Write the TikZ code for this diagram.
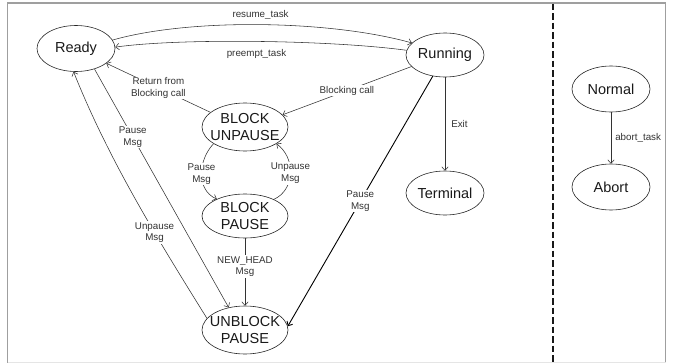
\documentclass[tikz,border=0pt]{standalone}
\usepackage{fontspec}
\setmainfont{Liberation Sans}
\usetikzlibrary{shapes.geometric,arrows.meta}
\begin{document}
\begin{tikzpicture}[x=1pt,y=1pt,
  state/.style={ellipse, draw=black!85, line width=0.6pt, inner xsep=-10pt, inner ysep=0pt,
    font=\fontsize{14.5}{17}\selectfont, align=center, text=black!90},
  edge/.style={draw=black!80, line width=0.55pt, -{Straight Barb[length=3.5pt,width=6.5pt]}},
  lbl/.style={font=\fontsize{9.8}{11.5}\selectfont, align=center, text=black!80, inner sep=1pt},
  lblw/.style={lbl, fill=white}]
\useasboundingbox (0,0) rectangle (673,-364);
% frame
\draw[gray!75, line width=1.1pt] (7.5,-362.5) -- (7.5,-3) -- (665.5,-3) -- (665.5,-362.5);
\draw[gray!20, line width=0.8pt] (7.5,-362.5) -- (665.5,-362.5);
% separator
\coordinate (septop) at (553,-3.5);
\coordinate (sepbot) at (553,-362);
\draw[black!90, line width=1.6pt, dash pattern=on 6.5pt off 3pt] (septop) -- (sepbot);
% states
\node[state, minimum width=78pt, minimum height=46pt] (ready) at (76,-48.5) {Ready};
\node[state, minimum width=78pt, minimum height=44pt] (running) at (445,-55) {Running};
\node[state, minimum width=86pt, minimum height=48pt] (bu) at (245,-127) {BLOCK\\UNPAUSE};
\node[state, minimum width=86pt, minimum height=44pt] (bp) at (245,-216) {BLOCK\\PAUSE};
\node[state, minimum width=86pt, minimum height=48pt] (ubp) at (245,-330) {UNBLOCK\\PAUSE};
\node[state, minimum width=78pt, minimum height=44pt] (term) at (445,-193) {Terminal};
\node[state, minimum width=78pt, minimum height=46pt] (normal) at (611,-89) {Normal};
\node[state, minimum width=78pt, minimum height=46pt] (abort) at (611,-187) {Abort};
% transitions
\draw[edge] (ready.13) .. controls (190,-18) and (330,-20) .. node[lbl, midway, above=4pt] (l1) {resume\_task} (running.160);
\draw[edge] (running.173) .. controls (330,-40) and (180,-38) .. node[lbl, midway, below=7pt] (l2) {preempt\_task} (ready.2);
\draw[edge] (bu.157) -- node[lblw, midway] (l3) {Return from\\Blocking call} (ready.-26);
\draw[edge] (running.199) -- node[lblw, midway] (l4) {Blocking call} (bu.18);
\draw[edge] (bu.208) .. controls (198,-160) and (196,-190) .. node[lblw, midway] (l5) {Pause\\Msg} (bp.149);
\draw[edge] (bp.30) .. controls (295,-190) and (296,-158) .. node[lblw, midway] (l6) {Unpause\\Msg} (bu.-28);
\draw[edge] (bp.south) -- node[lblw, pos=0.42] (l7) {NEW\_HEAD\\Msg} (ubp.north);
\draw[edge] (ready.-48) -- node[lblw, pos=0.285] (l8) {Pause\\Msg} (ubp.126);
\draw[edge] (ubp.163) .. controls (155,-235) and (108,-158) .. node[lblw, pos=0.35] (l9) {Unpause\\Msg} (ready.-96);
\draw[edge, draw=black, line width=0.9pt] (running.-120) -- node[lblw, midway] (l10) {Pause\\Msg} (ubp.5);
\draw[edge] (running.south) -- node[lbl, midway, right=5pt] (l11) {Exit} (term.north);
\draw[edge] (normal.south) -- node[lbl, midway, right=3pt] (l12) {abort\_task} (abort.north);
\end{tikzpicture}
\end{document}
